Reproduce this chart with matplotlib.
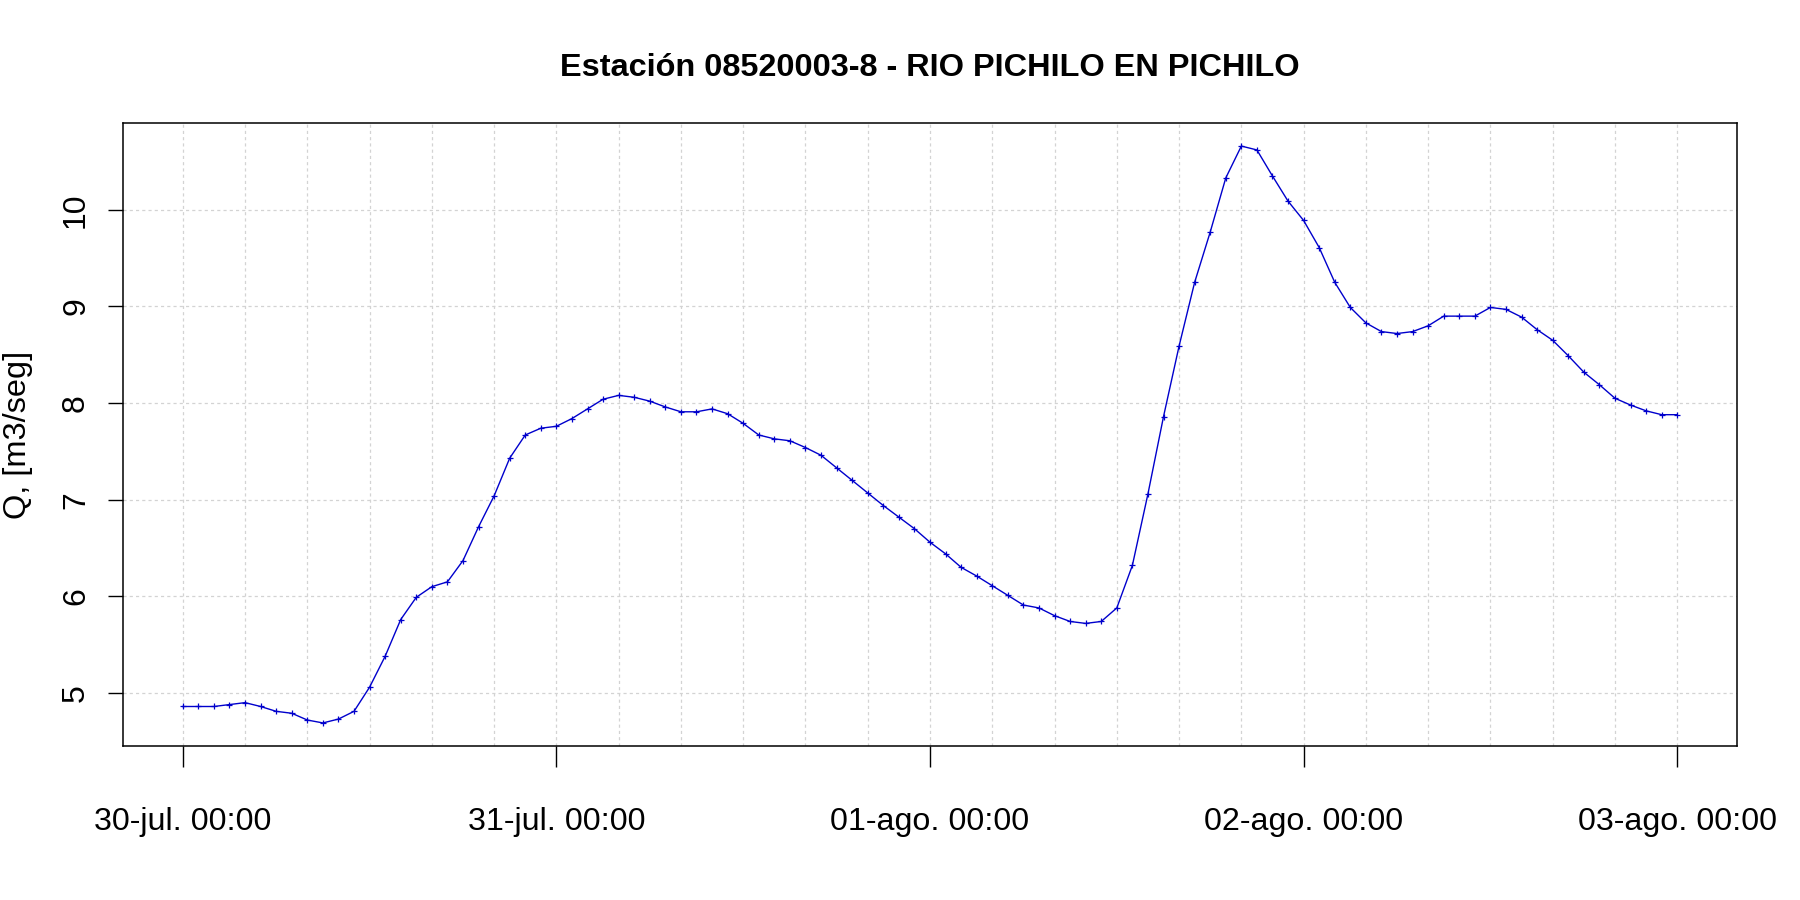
import numpy as np
import matplotlib.pyplot as plt

# caudal horario, 30-jul 00:00 a 03-ago 00:00
caudal = [4.86, 4.86, 4.86, 4.88, 4.90, 4.86, 4.81, 4.79, 4.72, 4.69,
          4.73, 4.81, 5.06, 5.38, 5.76, 5.99, 6.10, 6.15, 6.37, 6.72,
          7.04, 7.43, 7.67, 7.74, 7.76, 7.84, 7.94, 8.04, 8.08, 8.06,
          8.02, 7.96, 7.91, 7.91, 7.94, 7.89, 7.79, 7.67, 7.63, 7.61,
          7.54, 7.46, 7.33, 7.20, 7.07, 6.94, 6.82, 6.70, 6.56, 6.44,
          6.30, 6.21, 6.11, 6.01, 5.91, 5.88, 5.80, 5.74, 5.72, 5.74,
          5.88, 6.32, 7.06, 7.86, 8.59, 9.25, 9.77, 10.33, 10.66, 10.62,
          10.35, 10.09, 9.89, 9.61, 9.25, 8.99, 8.83, 8.74, 8.72, 8.74,
          8.80, 8.90, 8.90, 8.90, 8.99, 8.97, 8.89, 8.76, 8.65, 8.49,
          8.32, 8.19, 8.05, 7.98, 7.92, 7.88, 7.88]
horas = np.arange(len(caudal))

tick_horas = [0, 24, 48, 72, 96]
tick_labels = ['30-jul. 00:00', '31-jul. 00:00', '01-ago. 00:00',
               '02-ago. 00:00', '03-ago. 00:00']
y_ticks = [5, 6, 7, 8, 9, 10]

titulo = 'Estación 08520003-8 - RIO PICHILO EN PICHILO'
ylab = 'Q, [m3/seg]'

# Liberation Sans ~ Arial, como el dispositivo de R en windows
plt.rcParams['font.family'] = ['Liberation Sans', 'DejaVu Sans']

fig = plt.figure(figsize=(18, 9), dpi=100)
ax = fig.add_axes([123 / 1800, 1 - 746 / 900, 1614 / 1800, 623 / 900])

# grilla punteada estilo grid() de R
for h in np.arange(0, 97, 4):
    ax.axvline(h, color='#d3d3d3', lw=0.9, ls=(0, (2.5, 2.5)), zorder=0)
for yv in y_ticks:
    ax.axhline(yv, color='#d3d3d3', lw=0.9, ls=(0, (2.5, 2.5)), zorder=0)

ax.plot(horas, caudal, color='#0000cc', lw=1.0, marker='+', ms=4, mew=0.9)

rng = max(caudal) - min(caudal)
ax.set_xlim(-0.04 * 96, 96 * 1.04)
ax.set_ylim(min(caudal) - 0.04 * rng, max(caudal) + 0.04 * rng)

ax.set_xticks(tick_horas)
ax.set_xticklabels(tick_labels, fontsize=23.2)
ax.set_yticks(y_ticks)
ax.set_yticklabels([str(v) for v in y_ticks], fontsize=23, rotation=90,
                   va='center')
ax.tick_params(axis='x', length=15, width=1.0, pad=29)
ax.tick_params(axis='y', length=11, width=1.0, pad=12)

for s in ax.spines.values():
    s.set_linewidth(1.1)

ax.set_ylabel(ylab, fontsize=23.4)
ax.yaxis.set_label_coords(-0.0558, 0.5)

fig.text(930 / 1800, 1 - 76 / 900, titulo, ha='center', va='baseline',
         fontsize=23.4, fontweight='bold')

fig.savefig('out.png', dpi=100)
